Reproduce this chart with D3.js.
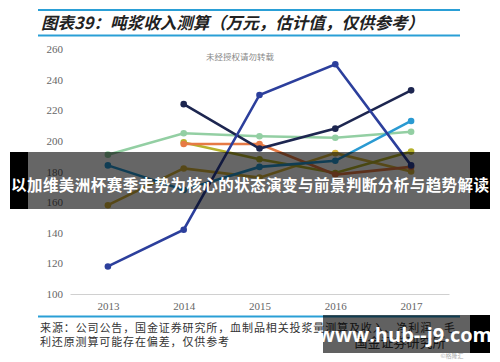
<!DOCTYPE html>
<html>
<head>
<meta charset="utf-8">
<script src="https://cdnjs.cloudflare.com/ajax/libs/d3/7.8.5/d3.min.js"></script>
<style>
  html, body { margin: 0; padding: 0; background: #fff; }
  svg { display: block; }
</style>
</head>
<body>
<div id="chart"></div>
<script>
// Data
const years = [2013, 2014, 2015, 2016, 2017];
const yTicks = [100, 120, 140, 160, 180, 200, 220, 240, 260];

const blueSeries   = [118, 142, 230, 250, 184];
const navySeries   = [null, 224, 195, 208, 233];
const greenSeries  = [191, 205, 203, 202, 206];
const tealSeries   = [184, 168, 183, 187, 213];
const orangeSeries = [null, 198, 198, 178, 183];
const oliveSeries  = [null, 199, 188, 179, 193];
const goldSeries   = [158, 182, 176, 192, 180];

const series = [
  { values: greenSeries,  color: "#93cfa3" },
  { values: goldSeries,   color: "#d8b53c" },
  { values: oliveSeries,  color: "#b6b22c" },
  { values: orangeSeries, color: "#e67a45" },
  { values: tealSeries,   color: "#2a9ad2" },
  { values: navySeries,   color: "#1d2650" },
  { values: blueSeries,   color: "#2c3f9c" }
];

const width = 500, height = 362;

const svg = d3.select("#chart")
  .append("svg")
  .attr("width", width)
  .attr("height", height);

// Title with blue rules
svg.append("line").attr("x1", 38).attr("x2", 460).attr("y1", 10).attr("y2", 10)
  .attr("stroke", "#2a9fd6").attr("stroke-width", 2);
svg.append("line").attr("x1", 38).attr("x2", 460).attr("y1", 35.5).attr("y2", 35.5)
  .attr("stroke", "#2a9fd6").attr("stroke-width", 2);
svg.append("text")
  .attr("x", 41).attr("y", 29)
  .attr("font-family", "'Noto Sans CJK SC', sans-serif")
  .attr("font-size", 16.5)
  .attr("font-weight", "bold")
  .attr("font-style", "italic")
  .attr("fill", "#222")
  .attr("textLength", 383)
  .text("图表39：吨浆收入测算（万元，估计值，仅供参考）");

// Scales
const x = d3.scaleLinear().domain([2012.5, 2017.5]).range([70, 449]);
const y = d3.scaleLinear().domain([100, 260]).range([294, 49]);

// Axes
const yAxis = svg.append("g")
  .attr("transform", "translate(63,0)")
  .call(d3.axisLeft(y).tickValues(yTicks).tickSize(0).tickPadding(0));
yAxis.select(".domain").remove();
yAxis.selectAll("text")
  .attr("font-family", "'Liberation Serif', serif")
  .attr("font-size", 11)
  .attr("fill", "#666");

const xAxis = svg.append("g")
  .attr("transform", "translate(0,294)")
  .call(d3.axisBottom(x).tickValues(years).tickFormat(d3.format("d")).tickSize(0).tickSizeOuter(0).tickPadding(8));
xAxis.select(".domain").attr("stroke", "#d0d0d0");
xAxis.selectAll("text")
  .attr("font-family", "'Liberation Serif', serif")
  .attr("font-size", 11)
  .attr("fill", "#666");

// Watermark inside plot
svg.append("text")
  .attr("x", 240).attr("y", 60)
  .attr("text-anchor", "middle")
  .attr("font-family", "'Noto Sans CJK SC', sans-serif")
  .attr("font-size", 8.5)
  .attr("fill", "#888")
  .text("未经授权请勿转载");

// Lines
const line = d3.line()
  .defined(d => d.v != null)
  .x(d => x(d.year))
  .y(d => y(d.v));

series.forEach(s => {
  const pts = s.values.map((v, i) => ({ year: years[i], v: v }));
  svg.append("path")
    .datum(pts)
    .attr("fill", "none")
    .attr("stroke", s.color)
    .attr("stroke-width", 2.6)
    .attr("d", line);
  svg.selectAll(null)
    .data(pts.filter(d => d.v != null))
    .enter()
    .append("circle")
    .attr("cx", d => x(d.year))
    .attr("cy", d => y(d.v))
    .attr("r", 3.3)
    .attr("fill", s.color);
});

// Bottom rule and source note
svg.append("line").attr("x1", 38).attr("x2", 460).attr("y1", 316.5).attr("y2", 316.5)
  .attr("stroke", "#2a9fd6").attr("stroke-width", 2);
const note = svg.append("g")
  .attr("font-family", "'Noto Sans CJK SC', sans-serif")
  .attr("font-size", 11)
  .attr("fill", "#333");
note.append("text").attr("x", 40).attr("y", 332).attr("textLength", 415)
  .text("来源：公司公告，国金证券研究所，血制品相关投浆量测算及收入、净利润、毛");
note.append("text").attr("x", 40).attr("y", 346).attr("textLength", 189)
  .text("利还原测算可能存在偏差，仅供参考");
svg.append("text")
  .attr("x", 400).attr("y", 347)
  .attr("text-anchor", "middle")
  .attr("font-family", "'Noto Sans CJK SC', sans-serif")
  .attr("font-size", 13)
  .attr("fill", "#333")
  .text("国金证券研究所");
svg.append("text")
  .attr("x", 452).attr("y", 358)
  .attr("text-anchor", "middle")
  .attr("font-family", "'Noto Sans CJK SC', sans-serif")
  .attr("font-size", 6)
  .attr("fill", "#aaa")
  .text("©格隆汇");

// Overlay banner across the chart (semi-transparent middle, black edges)
svg.append("rect").attr("x", 10).attr("y", 152).attr("width", 18).attr("height", 57)
  .attr("fill", "#000");
svg.append("rect").attr("x", 470).attr("y", 152).attr("width", 20).attr("height", 57)
  .attr("fill", "#000");
svg.append("rect").attr("x", 28).attr("y", 152).attr("width", 442).attr("height", 57)
  .attr("fill", "rgba(0,0,0,0.6)");
svg.append("text")
  .attr("x", 250).attr("y", 191)
  .attr("text-anchor", "middle")
  .attr("font-family", "'Noto Sans CJK SC', sans-serif")
  .attr("font-size", 15.5)
  .attr("font-weight", "bold")
  .attr("fill", "#fff")
  .attr("textLength", 478)
  .text("以加维美洲杯赛季走势为核心的状态演变与前景判断分析与趋势解读");

// Site watermark box
svg.append("rect").attr("x", 470).attr("y", 315).attr("width", 20).attr("height", 38)
  .attr("fill", "#000");
svg.append("rect").attr("x", 323).attr("y", 315).attr("width", 147).attr("height", 38)
  .attr("fill", "rgba(0,0,0,0.62)");
svg.append("text")
  .attr("x", 405).attr("y", 342)
  .attr("text-anchor", "middle")
  .attr("font-family", "'Open Sans', 'DejaVu Sans', sans-serif")
  .attr("font-size", 20)
  .attr("font-weight", "bold")
  .attr("fill", "#fff")
  .text("www.hub--j9.com");
</script>
</body>
</html>
